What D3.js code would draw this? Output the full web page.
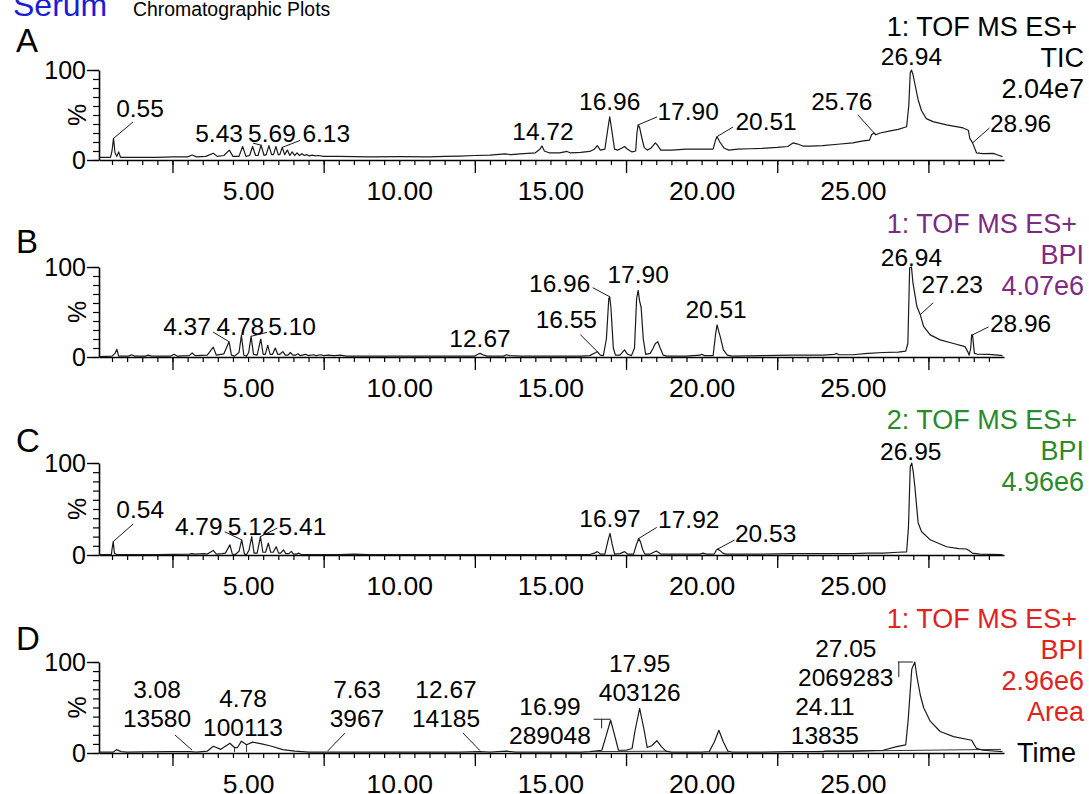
<!DOCTYPE html>
<html>
<head>
<meta charset="utf-8">
<script src="https://cdn.jsdelivr.net/npm/d3@7"></script>
<style>
  body { margin: 0; background: #fff; }
  svg { display: block; }
  text { font-family: "Liberation Sans", Arial, sans-serif; }
</style>
</head>
<body>
<svg id="chart" width="1089" height="794"></svg>
<script>
// ---- chromatogram traces: [retention time (min), relative intensity (%)] ----
const ticTrace = [[0.07,3],[0.45,3],[0.5,10],[0.55,24],[0.6,8],[0.66,4],[0.72,9],[0.78,3],[1.0,3],[1.5,3],[2.0,3],[2.5,3.5],[3.0,3.5],[3.15,5.5],[3.3,3.5],[3.6,4],[3.85,7.5],[3.98,4],[4.2,5],[4.38,11],[4.5,4],[4.7,4],[4.82,15],[4.93,4],[5.05,5],[5.15,15],[5.25,5],[5.33,5],[5.43,16.5],[5.53,5],[5.6,6],[5.69,16],[5.78,6],[5.84,6],[5.92,15],[6.0,6],[6.05,6],[6.13,14],[6.21,6],[6.3,11],[6.38,5],[6.46,9],[6.54,5],[6.62,8],[6.7,5],[6.78,7],[6.86,5],[6.94,6],[7.02,4.5],[7.12,5.5],[7.22,4.5],[7.32,5],[7.5,4],[8,4],[9,3.5],[10,3.7],[11,3.5],[11.5,4],[12,4.4],[12.5,5],[13,5.5],[13.5,6.7],[13.7,6],[14,6.7],[14.5,8],[14.65,12],[14.72,15.5],[14.8,10],[14.95,8],[15.3,8],[15.55,9.5],[15.65,8],[16,8.5],[16.3,9.5],[16.45,12],[16.55,16],[16.65,11],[16.8,12],[16.9,35],[16.96,48],[17.02,35],[17.12,12],[17.22,11],[17.35,13],[17.45,15],[17.55,12],[17.7,9],[17.82,10],[17.86,30],[17.9,39],[17.95,36],[18.02,25],[18.1,14],[18.2,11],[18.32,13],[18.47,19],[18.55,16],[18.65,11],[19,11],[19.5,12],[20,12],[20.38,12],[20.46,22],[20.51,26],[20.6,20],[20.75,13],[20.9,11],[21.2,12],[21.6,12.5],[22,13],[22.5,14],[22.85,15],[23.02,19],[23.15,18],[23.35,15.5],[23.6,15.5],[24,16],[24.5,17.5],[25,19],[25.3,21],[25.55,22],[25.62,28],[25.7,30],[25.76,28],[25.9,30],[26.2,32],[26.5,34],[26.78,37],[26.85,60],[26.9,97],[26.94,100],[26.99,95],[27.05,85],[27.16,67],[27.27,55],[27.43,46],[27.65,42.6],[28.1,39],[28.65,35.6],[28.82,33],[28.87,24],[28.96,19],[29.09,8],[29.3,7],[29.64,7.4],[29.8,5.5],[29.95,3.7]];

const bpi1Trace = [[0.07,0.5],[0.5,1],[0.6,4],[0.66,8.6],[0.72,1],[1.05,1],[1.15,2.5],[1.25,1],[1.6,1],[1.7,2],[1.8,1],[2.45,1],[2.55,3],[2.65,1],[3.05,1.5],[3.15,4.5],[3.25,1.5],[3.65,2],[3.85,11],[3.95,2],[4.2,3.5],[4.37,17],[4.45,2],[4.55,1],[4.7,5],[4.78,24],[4.86,2],[4.95,1],[5.02,5],[5.10,23],[5.18,3],[5.3,2],[5.42,20],[5.5,3],[5.57,3],[5.65,13],[5.73,3],[5.81,3],[5.9,10],[5.98,3],[6.05,3],[6.15,6],[6.23,2],[6.32,2],[6.4,5],[6.48,2],[6.57,2],[6.65,3.5],[6.73,1.5],[6.9,3],[7.0,1.5],[7.15,2.5],[7.25,1.5],[7.4,2.5],[7.5,1.5],[7.65,2],[7.85,1.5],[8.05,2],[8.25,1],[9,1],[10,1],[11,1],[12.5,1],[12.6,3],[12.67,4],[12.8,2],[12.9,1],[13.45,1],[13.55,2.5],[13.65,1.5],[14,1],[15,1],[16,1],[16.3,1.5],[16.5,5],[16.55,6],[16.65,2],[16.75,1.5],[16.85,20],[16.93,65],[16.96,67],[17.0,55],[17.08,10],[17.15,2],[17.3,2],[17.45,8],[17.55,3],[17.68,1.5],[17.78,10],[17.85,65],[17.9,74],[17.95,62],[18.0,55],[18.07,20],[18.15,3],[18.3,4],[18.4,10],[18.47,15],[18.55,17],[18.63,10],[18.73,2],[18.85,1],[19.5,1],[19.95,2],[20.0,3],[20.1,1.5],[20.38,1.5],[20.46,25],[20.51,35.6],[20.57,28],[20.62,22],[20.72,8],[20.85,2],[21,1],[22,1.5],[23,2],[24,2],[24.4,3],[24.46,4],[24.54,2.5],[25,2.5],[25.5,4],[26,5],[26.5,5.5],[26.75,6.5],[26.82,15],[26.88,99],[26.94,100],[26.99,82],[27.12,56],[27.23,47],[27.34,34],[27.56,24.6],[27.89,19],[28.33,15],[28.71,11.5],[28.8,6],[28.85,2],[28.9,10],[28.93,24.6],[28.96,24.6],[29.02,4],[29.1,3.3],[29.5,3],[29.8,2],[29.95,1.5]];

const bpi2Trace = [[0.07,0.5],[0.48,0.5],[0.5,6],[0.54,14.6],[0.58,2],[0.65,0.5],[1,0.5],[2,0.5],[3.05,1],[3.15,1.5],[3.25,1],[3.55,1.5],[3.65,1],[3.85,5],[3.95,1],[4.15,1.5],[4.25,2],[4.4,11],[4.48,1],[4.58,0.5],[4.7,4],[4.79,16.5],[4.88,1],[4.95,0.5],[5.03,5],[5.12,20],[5.2,2],[5.3,2],[5.41,20],[5.49,3],[5.58,3],[5.67,13],[5.75,3],[5.83,3],[5.93,9],[6.01,2],[6.08,2],[6.17,5.5],[6.25,1.5],[6.35,1.5],[6.43,4],[6.5,1],[6.6,1],[6.68,2],[6.76,0.5],[7,0.5],[8,0.5],[8.5,1],[9,0.5],[16.3,0.5],[16.45,2],[16.55,3.7],[16.65,1],[16.8,1],[16.9,15],[16.97,23.6],[17.04,12],[17.12,1],[17.3,1.5],[17.45,3.7],[17.55,1],[17.75,1],[17.85,12],[17.92,18],[17.98,14],[18.05,6],[18.12,1],[18.3,1],[18.5,4.4],[18.65,1],[19.95,1],[20.05,2],[20.15,1],[20.42,1],[20.48,5],[20.53,6.5],[20.6,5],[20.7,2],[20.8,1],[22,1],[23,1.5],[24,1.5],[25,1.5],[25.5,2],[26,2],[26.5,3],[26.78,3.5],[26.84,30],[26.9,96],[26.95,100],[27.0,90],[27.05,75],[27.16,35],[27.27,25.6],[27.56,16.5],[28.1,9],[28.5,7],[28.76,6.5],[28.88,4],[28.95,2],[29.2,1],[29.95,0.5]];

const areaTrace = [[0.07,1],[0.55,1],[0.65,3.7],[0.8,1.5],[1,1],[1.5,1.2],[2.5,1.5],[3.08,1.5],[3.3,1],[3.65,2],[3.85,7.4],[4.1,4],[4.4,10.7],[4.55,6],[4.65,6],[4.78,13],[4.95,9],[5.15,12],[5.45,10],[5.75,7.7],[6.15,3.7],[6.55,2],[7,1],[7.63,1],[8,1],[9,1],[10,1],[12,1],[12.67,1.5],[13,1],[13.55,2],[13.85,1],[16,1],[16.3,1.5],[16.55,2.5],[16.7,3],[16.85,20],[16.99,36],[17.12,20],[17.25,3],[17.5,3],[17.7,5],[17.8,25],[17.95,49],[18.1,25],[18.2,6],[18.35,8],[18.52,13.5],[18.67,7],[18.82,2],[19,1],[20,1],[20.25,1.5],[20.42,12],[20.57,25],[20.72,12],[20.87,2],[21,1],[22,1],[23,1.5],[24,1.5],[24.11,2],[25,2],[26,3],[26.45,7],[26.75,9],[26.83,36],[26.95,92],[27.05,100],[27.12,84],[27.23,64],[27.34,50],[27.56,35],[27.89,23.6],[28.33,18],[28.93,14],[29.0,10],[29.09,5],[29.3,3],[29.95,1.5]];

// ---- labelled peaks (retention times) and integrated areas ----
const ticPeaks = [0.55, 5.43, 5.69, 6.13, 14.72, 16.96, 17.90, 20.51, 25.76, 26.94, 28.96];
const bpi1Peaks = [4.37, 4.78, 5.10, 12.67, 16.55, 16.96, 17.90, 20.51, 26.94, 27.23, 28.96];
const bpi2Peaks = [0.54, 4.79, 5.12, 5.41, 16.97, 17.92, 20.53, 26.95];
const areaPeaks = [3.08, 4.78, 7.63, 12.67, 16.99, 17.95, 24.11, 27.05];
const areaValues = [13580, 100113, 3967, 14185, 289048, 403126, 13835, 2069283];

// integration baselines and peak-split drop lines for the area trace
const areaBaselines = [[[16.3, 1.5], [18.85, 2]], [[20.25, 1], [20.9, 1]], [[23.3, 1.5], [29.9, 4]]];
const areaDrops = [4.55, 4.95];

// ---- trace header texts ----
const ticHeader = ["1: TOF MS ES+", "TIC", "2.04e7"];
const bpi1Header = ["1: TOF MS ES+", "BPI", "4.07e6"];
const bpi2Header = ["2: TOF MS ES+", "BPI", "4.96e6"];
const areaHeader = ["1: TOF MS ES+", "BPI", "2.96e6", "Area"];

// ---- axis ticks ----
const xTickValues = [5, 10, 15, 20, 25];
const xTickLabels = ["5.00", "10.00", "15.00", "20.00", "25.00"];
const yTickValues = [0, 100];
const yTickLabels = ["0", "100"];
const panelLetters = ["A", "B", "C", "D"];

// ---- label placement (pixel offsets from each peak point) ----
const layoutTic = [
  {dx: 26.5, dy: -21.4, lead: [[[19.5, -16.4], [0, 0]]]},
  {dx: -42, dy: -3, lead: [[[-8, -2], [0, 0]]]},
  {dx: 3, dy: -3.6},
  {dx: 44, dy: -5, lead: [[[18, -7], [0, 0]]]},
  {dx: 1, dy: -6},
  {dx: 0, dy: -7},
  {dx: 50, dy: -5, lead: [[[19, -8], [0, 0]]]},
  {dx: 49, dy: -6.6, lead: [[[16, -9.6], [0, 0]]]},
  {dx: -34, dy: -25, lead: [[[-18, -20], [0, 0]]]},
  {dx: 0, dy: -5},
  {dx: 48, dy: -11, lead: [[[17, -15], [0, 0]]]}
];
const layoutBpi1 = [
  {dx: -42, dy: -6.7, lead: [[[-16, -9.7], [0, 0]]]},
  {dx: -1, dy: -0.4},
  {dx: 41, dy: -1, lead: [[[16, -4], [0, 0]]]},
  {dx: 0, dy: -6},
  {dx: -31, dy: -24, lead: [[[-17, -17], [0, 0]]]},
  {dx: -50, dy: -5, lead: [[[-17, -9], [0, 0]]]},
  {dx: 0, dy: -7},
  {dx: -1, dy: -7},
  {dx: 0, dy: -1},
  {dx: 32, dy: -22, lead: [[[13, -12], [0, 0]]]},
  {dx: 48, dy: -3, lead: [[[16, -8], [0, 0]]]}
];
const layoutBpi2 = [
  {dx: 27, dy: -23.6, lead: [[[20, -17.6], [0, 0]]]},
  {dx: -43, dy: -5, lead: [[[-17, -8], [0, 0]]]},
  {dx: 0, dy: -1.6},
  {dx: 42, dy: -1.6, lead: [[[17, -8.6], [0, 0]]]},
  {dx: 0, dy: -6},
  {dx: 50, dy: -10, lead: [[[18, -11], [0, 0]]]},
  {dx: 48, dy: -7, lead: [[[17, -9], [0, 0]]]},
  {dx: -1, dy: -3}
];
const layoutArea = [
  {dx: -33, dy: -53.6, lead: [[[-15, -16.6], [2, -1.6]]]},
  {dx: 1.6, dy: -34.2},
  {dx: 29.4, dy: -54, lead: [[[17.4, -19], [0, -1]]]},
  {dx: -34, dy: -53.6, lead: [[[-17, -18.6], [0, -1]]]},
  {dx: -60.7, dy: -5.2, lead: [[[-17, -1], [0, -1]], [[-9, -1], [-9, 8]]]},
  {dx: 0, dy: -36.4},
  {dx: -1, dy: -36},
  {dx: -69, dy: -5, lead: [[[-17, 0], [-2, 0]], [[-16, 0], [-16, 15]]]}
];

const panels = [
  {trace: ticTrace, peaks: ticPeaks, layout: layoutTic, header: ticHeader, color: "#000000", top: 70, bottom: 160, letterDy: -18},
  {trace: bpi1Trace, peaks: bpi1Peaks, layout: layoutBpi1, header: bpi1Header, color: "#7d2a83", top: 267, bottom: 357, letterDy: -14},
  {trace: bpi2Trace, peaks: bpi2Peaks, layout: layoutBpi2, header: bpi2Header, color: "#2a8a2a", top: 463, bottom: 555, letterDy: -11},
  {trace: areaTrace, peaks: areaPeaks, layout: layoutArea, header: areaHeader, color: "#e0231f", top: 662, bottom: 753, letterDy: -12, areas: areaValues}
];

const svg = d3.select("#chart");
const font = '"Liberation Sans", Arial, sans-serif';

// title
const title = svg.append("text").attr("x", 13).attr("y", 16).style("font-family", font);
title.append("tspan").attr("fill", "#1c1cd2").style("font-size", "32px").text("Serum");
title.append("tspan").attr("x", 133).attr("fill", "#000").style("font-size", "19.4px").text("Chromatographic Plots");

const x = d3.scaleLinear().domain([0.07, 30]).range([99, 1004]);

function valueAt(trace, t) {
  const i = d3.bisector(d => d[0]).left(trace, t);
  if (i <= 0) return trace[0][1];
  if (i >= trace.length) return trace[trace.length - 1][1];
  const a = trace[i - 1], b = trace[i];
  return a[1] + (b[1] - a[1]) * (t - a[0]) / (b[0] - a[0]);
}

panels.forEach((p, pi) => {
  const y = d3.scaleLinear().domain([0, 100]).range([p.bottom, p.top]);
  const g = svg.append("g");

  // panel letter
  g.append("text").attr("x", 16).attr("y", p.top + p.letterDy)
    .style("font-size", "33px").attr("fill", "#000").text(panelLetters[pi]);

  // x axis: minor ticks every 0.5 min, long ticks at the half-way marks, labels every 5 min
  const minor = d3.range(0.5, 29.75, 0.5);
  const longT = [2.5, 7.5, 12.5, 17.5, 22.5, 27.5];
  g.append("g").attr("transform", `translate(0,${p.bottom})`)
    .call(d3.axisBottom(x).tickValues(minor).tickSize(5).tickSizeOuter(0).tickFormat(""))
    .call(a => a.select(".domain").attr("stroke-width", 1.6))
    .call(a => a.selectAll(".tick line").attr("stroke-width", 1.2));
  g.append("g").attr("transform", `translate(0,${p.bottom})`)
    .call(d3.axisBottom(x).tickValues(longT).tickSize(13).tickSizeOuter(0).tickFormat(""))
    .call(a => a.select(".domain").remove())
    .call(a => a.selectAll(".tick line").attr("stroke-width", 1.3));
  g.append("g").attr("transform", `translate(0,${p.bottom})`)
    .call(d3.axisBottom(x).tickValues(xTickValues).tickSize(0).tickPadding(0)
      .tickFormat((d, i) => xTickLabels[i]))
    .call(a => a.select(".domain").remove())
    .call(a => a.selectAll("text").attr("dy", null).attr("y", 40)
      .style("font-size", "26.5px").style("font-family", font).attr("fill", "#000"));

  // y axis
  g.append("g").attr("transform", `translate(99,0)`)
    .call(d3.axisLeft(y).tickValues(d3.range(0, 101, 10)).tickSize(6).tickSizeOuter(0).tickFormat(""))
    .call(a => a.select(".domain").attr("stroke-width", 1.6))
    .call(a => a.selectAll(".tick line").attr("stroke-width", 1.2));
  g.append("g").attr("transform", `translate(99,0)`)
    .call(d3.axisLeft(y).tickValues(yTickValues).tickSize(12).tickSizeOuter(0).tickPadding(1)
      .tickFormat((d, i) => yTickLabels[i]))
    .call(a => a.select(".domain").remove())
    .call(a => a.selectAll(".tick line").attr("stroke-width", 1.4))
    .call(a => a.selectAll("text").attr("dy", "0.34em")
      .style("font-size", "25px").style("font-family", font).attr("fill", "#000"));

  // % label
  const midY = (p.top + p.bottom) / 2;
  g.append("text").attr("transform", `translate(86,${midY}) rotate(-90)`)
    .attr("text-anchor", "middle").style("font-size", "25px").text("%");

  // area integration marks
  if (p.areas) {
    g.selectAll(".base").data(areaBaselines).join("path")
      .attr("fill", "none").attr("stroke", "#333").attr("stroke-width", 1)
      .attr("d", d => d3.line().x(q => x(q[0])).y(q => y(q[1]))(d));
    g.selectAll(".drop").data(areaDrops).join("line")
      .attr("x1", d => x(d)).attr("x2", d => x(d))
      .attr("y1", d => y(valueAt(p.trace, d))).attr("y2", y(1))
      .attr("stroke", "#333").attr("stroke-width", 1);
  }

  // trace
  g.append("path").datum(p.trace)
    .attr("fill", "none").attr("stroke", "#1a1a1a").attr("stroke-width", 1.2)
    .attr("stroke-linejoin", "round")
    .attr("d", d3.line().x(d => x(d[0])).y(d => y(d[1])));

  // peak labels
  p.peaks.forEach((t, i) => {
    const px = x(t), py = y(valueAt(p.trace, t));
    const L = p.layout[i];
    (L.lead || []).forEach(seg => {
      g.append("path").attr("fill", "none").attr("stroke", "#1a1a1a").attr("stroke-width", 1)
        .attr("d", d3.line()(seg.map(s => [px + s[0], py + s[1]])));
    });
    const tx = g.append("text").attr("x", px + L.dx).attr("y", py + L.dy)
      .attr("text-anchor", "middle").style("font-size", "24.5px").attr("fill", "#000")
      .text(t.toFixed(2));
    if (p.areas) {
      g.append("text").attr("x", px + L.dx).attr("y", py + L.dy + 29)
        .attr("text-anchor", "middle").style("font-size", "24.5px").attr("fill", "#000")
        .text(String(p.areas[i]));
    }
  });

  // header (function, trace type, max intensity)
  p.header.forEach((h, i) => {
    g.append("text").attr("x", i === 0 ? 1077 : 1084).attr("y", p.top - 34 + 31 * i)
      .attr("text-anchor", "end").style("font-size", "27px").attr("fill", p.color).text(h);
  });
});

// time axis title
svg.append("text").attr("x", 1017).attr("y", 762).style("font-size", "27px").attr("fill", "#000").text("Time");
</script>
</body>
</html>
